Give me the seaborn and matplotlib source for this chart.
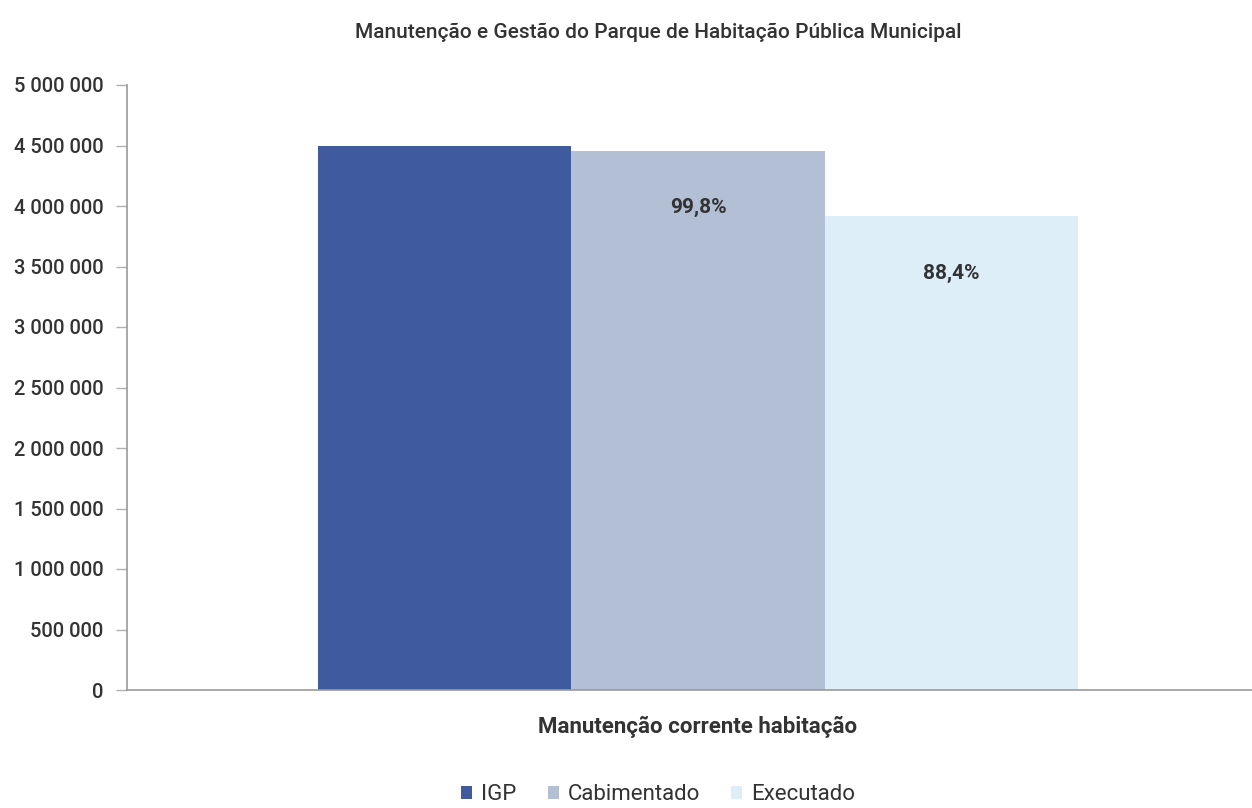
import matplotlib
matplotlib.use("Agg")
import matplotlib.pyplot as plt
import seaborn as sns
import pandas as pd
from matplotlib.patches import Patch

# Data
category = ["Manutenção corrente habitação"]
series = ["IGP", "Cabimentado", "Executado"]
values = [4495000, 4455000, 3915000]
pct_labels = ["", "99,8%", "88,4%"]
yticks = [0, 500000, 1000000, 1500000, 2000000, 2500000, 3000000, 3500000, 4000000, 4500000, 5000000]
title = "Manutenção e Gestão do Parque de Habitação Pública Municipal"

colors = ["#3f5a9e", "#b3bfd5", "#ddeef9"]
text_color = "#333333"

df = pd.DataFrame({
    "categoria": category * len(series),
    "serie": series,
    "valor": values,
})

sns.set_theme(style="white")
plt.rcParams["font.family"] = ["Roboto", "DejaVu Sans"]

fig = plt.figure(figsize=(12.52, 8.08), dpi=100)
ax = fig.add_axes([127 / 1252, 118 / 808, 1142 / 1252, 605 / 808])

sns.barplot(data=df, x="categoria", y="valor", hue="serie", hue_order=series,
            palette=colors, width=0.665, gap=0, saturation=1, ax=ax,
            legend=False, edgecolor="none", linewidth=0)

ax.set_xlim(-0.5, 0.5)
ax.set_ylim(0, 5000000)
ax.set_yticks(yticks)
ax.set_yticklabels([f"{v:,}".replace(",", " ") for v in yticks])
ax.set_xlabel("")
ax.set_ylabel("")

for side in ["top", "right"]:
    ax.spines[side].set_visible(False)
for side in ["left", "bottom"]:
    ax.spines[side].set_color("#9a9a9a")
    ax.spines[side].set_linewidth(1.2)

ax.tick_params(axis="y", which="both", left=True, length=8, width=1, color="#b0b0b0",
               labelsize=14.5, labelcolor=text_color, pad=9)
ax.tick_params(axis="x", bottom=False, labelsize=16, labelcolor=text_color, pad=13)
for lbl in ax.get_xticklabels():
    lbl.set_fontweight("bold")
for lbl in ax.get_yticklabels():
    lbl.set_fontweight("medium")

# Percentage labels inside the bars
for bar, lab, v in zip(ax.patches, pct_labels, values):
    if lab:
        ax.text(bar.get_x() + bar.get_width() / 2, v - 0.47e6, lab,
                ha="center", va="center", fontsize=15, fontweight="bold",
                color=text_color)

fig.text(658 / 1252, 1 - 32 / 808, title, ha="center", va="center",
         fontsize=15, fontweight="medium", color=text_color)

handles = [Patch(facecolor=c, edgecolor="none") for c in colors]
fig.legend(handles, series, loc="center", bbox_to_anchor=(658 / 1252, 1 - 795 / 808),
           ncol=3, frameon=False, fontsize=16, handlelength=0.5, handleheight=0.5,
           handletextpad=0.4, columnspacing=1.4, labelcolor=text_color)

fig.savefig("out.png", dpi=100, facecolor="white")
